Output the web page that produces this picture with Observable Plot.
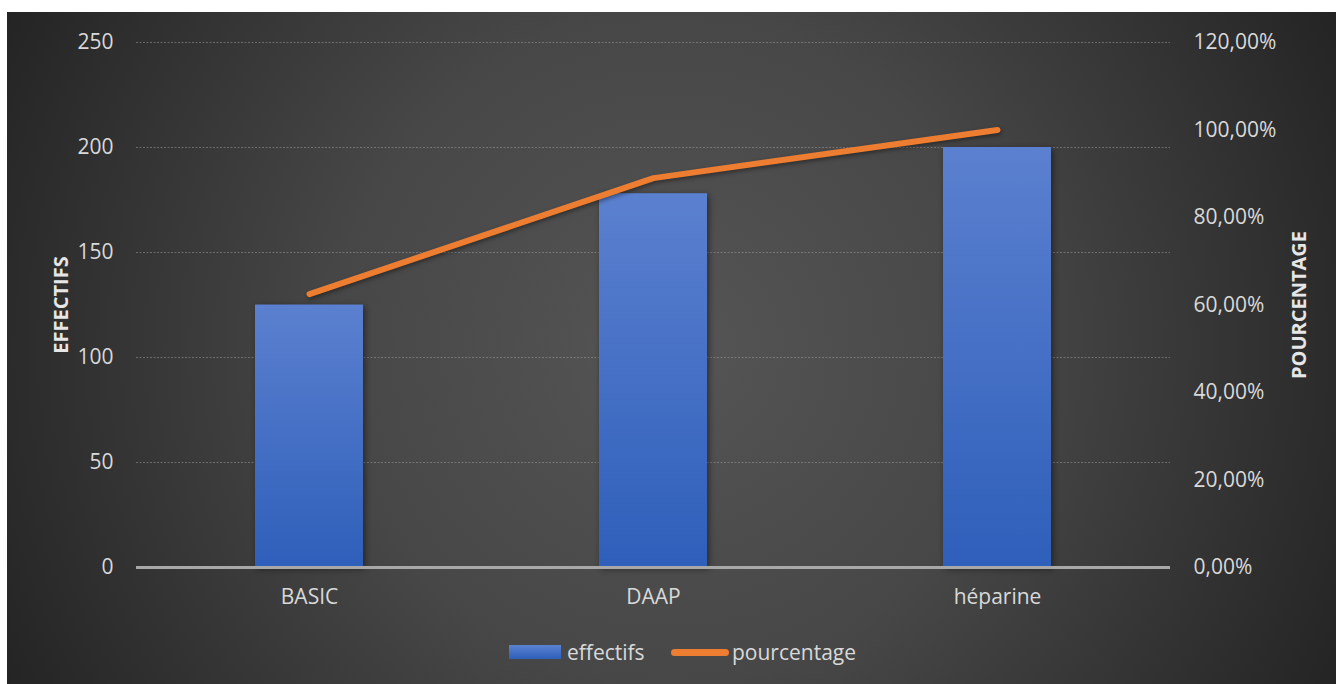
<!DOCTYPE html>
<html>
<head>
<meta charset="utf-8">
<script src="https://cdn.jsdelivr.net/npm/d3@7"></script>
<script src="https://cdn.jsdelivr.net/npm/@observablehq/plot@0.6"></script>
<style>
  html, body { margin: 0; padding: 0; background: #fff; }
  body { width: 1336px; height: 684px; position: relative; overflow: hidden; font-family: "Open Sans", sans-serif; }
  #card {
    position: absolute; left: 7px; top: 12px; width: 1329px; height: 672px;
    background: radial-gradient(circle farthest-corner at 50% 50%, #555555 0%, #4d4d4d 25%, #474747 45%, #2b2b2b 89%, #242424 100%);
  }
  #chart { position: absolute; left: 0; top: 0; }
  #legend { position: absolute; left: 0; top: 622px; width: 1329px; height: 50px; color: #d9d9d9; font-size: 21px; }
  #legend .sw-bar { position: absolute; left: 502px; top: 11px; width: 52px; height: 14px; background: linear-gradient(#5b82d0, #2e5fba); }
  #legend .sw-line { position: absolute; left: 664px; top: 15px; width: 58px; height: 7px; border-radius: 4px; background: #ed7d31; }
  #legend .lab { position: absolute; top: 0; line-height: 36px; white-space: nowrap; }
</style>
</head>
<body>
<div id="card">
  <div id="chart"></div>
  <div id="legend">
    <span class="sw-bar"></span><span class="lab" style="left:560px">effectifs</span>
    <span class="sw-line"></span><span class="lab" style="left:725px">pourcentage</span>
  </div>
</div>
<script>
// Treatment groups, head counts and cumulative share
const categories = ["BASIC", "DAAP", "héparine"];
const effectifs = [125, 178, 200];
const pourcentage = [0.625, 0.89, 1.0];

// Axis tick values
const countTicks = [0, 50, 100, 150, 200, 250];
const pctTicks = [0, 0.2, 0.4, 0.6, 0.8, 1.0, 1.2];

// The share axis (0–120 %) is drawn on the same vertical range as the count axis (0–250)
const countMax = 250, pctMax = 1.2;
const k = countMax / pctMax;

const rows = categories.map((c, i) => ({cat: c, n: effectifs[i], pct: pourcentage[i]}));
const fmtPct = p => (p * 100).toFixed(2).replace(".", ",") + "%";

const svg = Plot.plot({
  width: 1329,
  height: 622,
  marginLeft: 129,
  marginRight: 166,
  marginTop: 30,
  marginBottom: 67,
  style: {background: "transparent", color: "#d9d9d9", fontFamily: "'Open Sans', sans-serif", fontSize: "21px", overflow: "visible"},
  x: {domain: categories, paddingInner: 0.687, paddingOuter: 0.3435, label: null},
  y: {domain: [0, countMax], label: null},
  marks: [
    Plot.gridY(countTicks.filter(v => v > 0), {stroke: "#a0a0a0", strokeOpacity: 0.5, strokeDasharray: "2,1.5"}),
    Plot.barY(rows, {x: "cat", y: "n", fill: "url(#barFill)"}),
    Plot.ruleY([0], {stroke: "#a8a8a8", strokeWidth: 3}),
    Plot.line(rows, {x: "cat", y: d => d.pct * k, stroke: "#ed7d31", strokeWidth: 6, strokeLinecap: "round", strokeLinejoin: "round"}),
    Plot.axisY(countTicks, {anchor: "left", tickSize: 0, tickPadding: 23, label: "EFFECTIFS", labelArrow: "none", labelAnchor: "center", labelOffset: 83}),
    Plot.axisY(pctTicks.map(p => p * k), {anchor: "right", tickSize: 0, tickPadding: 23, tickFormat: v => fmtPct(v / k), label: "POURCENTAGE", labelArrow: "none", labelAnchor: "center", labelOffset: 135}),
    Plot.axisX({tickSize: 0, tickPadding: 22, label: null})
  ]
});

// vertical blue gradient used by each bar
const s = d3.select(svg);
const defs = s.insert("defs", ":first-child");
const g = defs.append("linearGradient").attr("id", "barFill").attr("x1", 0).attr("y1", 0).attr("x2", 0).attr("y2", 1);
g.append("stop").attr("offset", "0%").attr("stop-color", "#5b80cf");
g.append("stop").attr("offset", "100%").attr("stop-color", "#2e5fba");

s.selectAll('g[aria-label="bar"]').style("filter", "drop-shadow(2px 2px 3px rgba(0,0,0,0.45))");
s.selectAll('g[aria-label="line"]').style("filter", "drop-shadow(1px 2px 2px rgba(0,0,0,0.4))");
s.selectAll('g[aria-label="y-axis label"] text').style("font-weight", "700").style("font-size", "20px").attr("fill", "#e6e6e6");

document.getElementById("chart").appendChild(svg);
</script>
</body>
</html>
